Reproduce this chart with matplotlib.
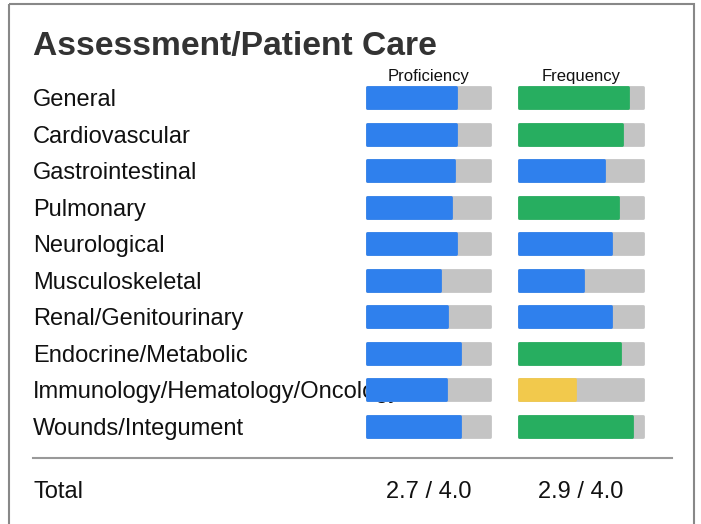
import matplotlib.pyplot as plt
from matplotlib import transforms
from matplotlib.patches import Rectangle

# data
topics = ["General", "Cardiovascular", "Gastrointestinal", "Pulmonary",
          "Neurological", "Musculoskeletal", "Renal/Genitourinary",
          "Endocrine/Metabolic", "Immunology/Hematology/Oncology",
          "Wounds/Integument"]
proficiency = [2.88, 2.88, 2.83, 2.72, 2.88, 2.37, 2.60, 3.04, 2.56, 3.04]
frequency = [3.53, 3.32, 2.74, 3.20, 2.98, 2.06, 2.98, 3.26, 1.82, 3.64]
total_proficiency = 2.7
total_frequency = 2.9
max_score = 4.0

BLUE = "#2F80ED"
GREEN = "#27AE60"
YELLOW = "#F2C94C"
TRACK = "#C4C4C4"

plt.rcParams['font.family'] = ['Liberation Sans', 'DejaVu Sans']

W, H = 701, 524
fig = plt.figure(figsize=(W / 100, H / 100), dpi=100)

# background axes in pixel units for the text and frame
bg = fig.add_axes([0, 0, 1, 1])
bg.set_xlim(0, W)
bg.set_ylim(H, 0)
bg.axis('off')


def col_axes(x0, x1):
    ax = fig.add_axes([x0 / W, 1 - 444.5 / H, (x1 - x0) / W, 365 / H])
    ax.set_xlim(0, max_score)
    ax.set_ylim(len(topics) - 0.5, -0.5)
    ax.axis('off')
    return ax


def freq_color(v):
    if v >= 3.0:
        return GREEN
    if v >= 2.0:
        return BLUE
    return YELLOW


def draw_bars(ax, vals, colors, header):
    y = range(len(vals))
    # thick round-joined edges give the small rounded corners
    ax.barh(y, [max_score] * len(vals), height=0.58, color=TRACK, edgecolor=TRACK,
            lw=2, joinstyle='round', clip_on=False)
    ax.barh(y, vals, height=0.58, color=colors, edgecolor=colors,
            lw=2, joinstyle='round', clip_on=False)
    ax.annotate(header, xy=(0.5, 1), xycoords='axes fraction', xytext=(0, -1),
                textcoords='offset points', ha='center', va='baseline',
                fontsize=12, color='#111111')


ax_p = col_axes(367, 490)
ax_f = col_axes(519, 643)
draw_bars(ax_p, proficiency, [BLUE] * len(proficiency), "Proficiency")
draw_bars(ax_f, frequency, [freq_color(v) for v in frequency], "Frequency")

bg.text(33, 46, "Assessment/Patient Care", fontsize=24.2, weight='bold',
        color='#333333', va='center')

tr = transforms.blended_transform_factory(bg.transData, ax_p.transData)
for i, t in enumerate(topics):
    bg.text(33, i, t, transform=tr, va='center_baseline', fontsize=17, color='#111111')

bg.plot([33, 672], [458, 458], color='#999999', lw=1.5)
bg.text(33, 490, "Total", va='center_baseline', fontsize=17, color='#111111')
bg.text(428.5, 490, f"{total_proficiency:.1f} / {max_score:.1f}", ha='center',
        va='center_baseline', fontsize=17, color='#111111')
bg.text(581, 490, f"{total_frequency:.1f} / {max_score:.1f}", ha='center',
        va='center_baseline', fontsize=17, color='#111111')

bg.add_patch(Rectangle((8.5, 3.5), 685, 600, fill=False, ec='#888888', lw=1.5,
                       clip_on=False))

fig.savefig("out.png", dpi=100)
